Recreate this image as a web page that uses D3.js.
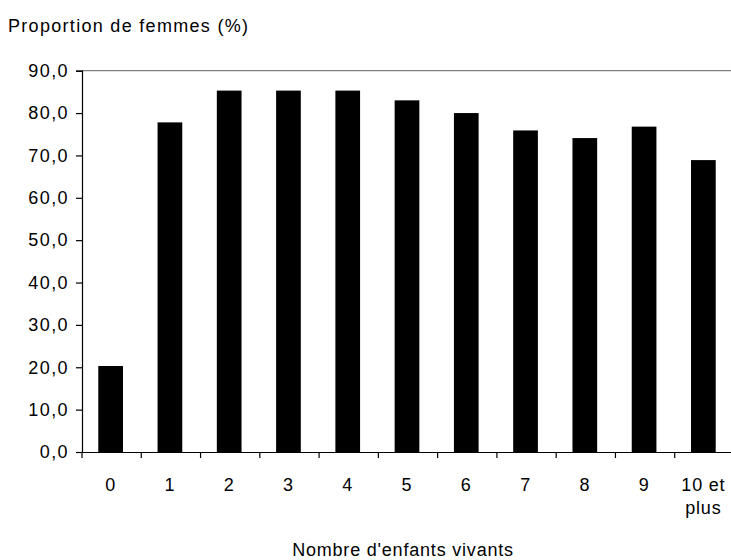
<!DOCTYPE html>
<html>
<head>
<meta charset="utf-8">
<script src="https://cdn.jsdelivr.net/npm/d3@7/dist/d3.min.js"></script>
<style>
  html, body { margin: 0; padding: 0; background: #fff; }
  svg { display: block; }
  text { font-family: "Liberation Sans", Arial, sans-serif; fill: #000; }
</style>
</head>
<body>
<svg id="chart" width="731" height="560"></svg>
<script>
const categories = ["0", "1", "2", "3", "4", "5", "6", "7", "8", "9", "10 et|plus"];
const values = [20.3, 77.8, 85.3, 85.3, 85.3, 83.0, 80.0, 75.9, 74.1, 76.8, 68.9];
const yTicks = [0, 10, 20, 30, 40, 50, 60, 70, 80, 90];
const yTitle = "Proportion de femmes (%)";
const xTitle = "Nombre d'enfants vivants";

const svg = d3.select("#chart");
const pLeft = 82, pRight = 734, pTop = 70.7, pBottom = 452;

const x = d3.scaleBand().domain(categories).range([pLeft, pRight]).padding(0);
const y = d3.scaleLinear().domain([0, 90]).range([pBottom, pTop]);
const fmt = v => v.toFixed(1).replace(".", ",");
const fontSize = 18;

// plot area border (top)
svg.append("line")
  .attr("x1", pLeft).attr("x2", 731).attr("y1", pTop).attr("y2", pTop)
  .attr("stroke", "#808080").attr("stroke-width", 1.2);

// bars
const barW = x.bandwidth() / 2.4;
svg.append("g").selectAll("rect").data(values).enter().append("rect")
  .attr("x", (d, i) => x(categories[i]) + (x.bandwidth() - barW) / 2 - 1)
  .attr("width", barW)
  .attr("y", d => y(d))
  .attr("height", d => pBottom - y(d))
  .attr("fill", "#000");

// y axis
const yAxis = svg.append("g").attr("transform", `translate(${pLeft},0)`)
  .call(d3.axisLeft(y).tickValues(yTicks).tickFormat(fmt).tickSize(6).tickPadding(7));
yAxis.select(".domain").attr("stroke", "#000").attr("stroke-width", 1.2);
yAxis.selectAll(".tick line").attr("stroke", "#000").attr("stroke-width", 1.2);
yAxis.selectAll(".tick text")
  .attr("font-size", fontSize).attr("font-family", "Liberation Sans, Arial, sans-serif")
  .attr("letter-spacing", 1.4).attr("fill", "#000");

// x axis
const xAxis = svg.append("g").attr("transform", `translate(0,${pBottom})`)
  .call(d3.axisBottom(x).tickSize(0).tickFormat(""));
xAxis.select(".domain").attr("stroke", "#000").attr("stroke-width", 1.2);
xAxis.selectAll(".tick").remove();
const bounds = categories.map(c => x(c)).concat([x(categories[categories.length - 1]) + x.bandwidth()]);
xAxis.selectAll("line.bt").data(bounds).enter().append("line")
  .attr("class", "bt")
  .attr("x1", d => d).attr("x2", d => d).attr("y1", 0).attr("y2", 6)
  .attr("stroke", "#000").attr("stroke-width", 1.2);
const lbl = svg.append("g");
categories.forEach(c => {
  const lines = c.split("|");
  const cx = x(c) + x.bandwidth() / 2 - 1;
  const t = lbl.append("text")
    .attr("x", cx)
    .attr("y", 491)
    .attr("text-anchor", "middle")
    .attr("font-size", fontSize)
    .attr("letter-spacing", 0.8);
  lines.forEach((ln, k) => {
    t.append("tspan").attr("x", cx).attr("dy", k === 0 ? 0 : 22.5).text(ln);
  });
});

svg.append("text").attr("x", 8).attr("y", 32)
  .attr("font-size", fontSize).attr("letter-spacing", 1.3).text(yTitle);
svg.append("text").attr("x", 403).attr("y", 556)
  .attr("text-anchor", "middle")
  .attr("font-size", fontSize).attr("letter-spacing", 0.8).text(xTitle);
</script>
</body>
</html>
